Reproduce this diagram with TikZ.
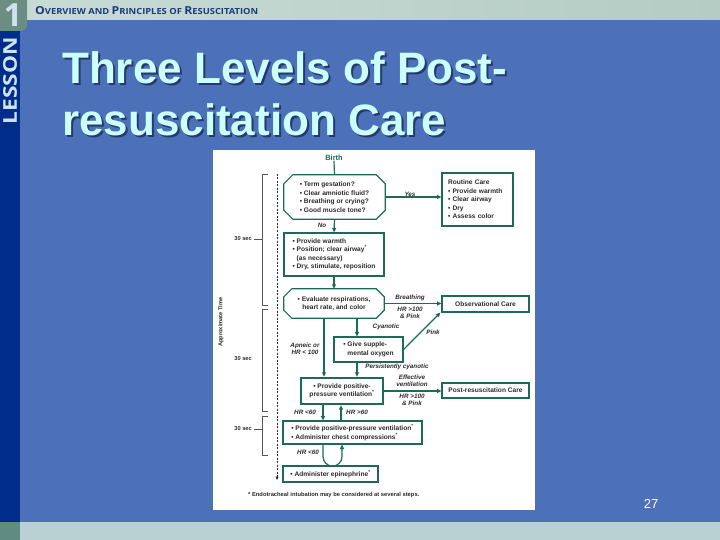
\documentclass[tikz,border=0pt]{standalone}
\usepackage{fontspec}
\setmainfont{Liberation Sans}
\newfontfamily\hdrfont{Open Sans}
\usepackage{graphicx}
\usetikzlibrary{arrows.meta,calc}
\definecolor{slideblue}{HTML}{4D71B8}
\definecolor{navy}{HTML}{002C8C}
\definecolor{topband}{HTML}{C8DCD5}
\definecolor{topband2}{HTML}{B4CCC4}
\definecolor{bottomband}{HTML}{B9D1D2}
\definecolor{tabcol}{HTML}{6C8D82}
\definecolor{cornercol}{HTML}{5F8B80}
\definecolor{chartgreen}{HTML}{1B6B58}
\definecolor{textgray}{HTML}{2B2B2B}
\definecolor{titlecyan}{HTML}{CCFFFF}
\definecolor{titleshadow}{HTML}{243A6A}
\definecolor{headernavy}{HTML}{1E3A78}
\definecolor{lessoncol}{HTML}{CFE3EE}
\definecolor{timegray}{HTML}{555555}
\newcommand{\chfont}{\fontsize{6.6}{8.5}\selectfont\bfseries}
\newcommand{\lblfont}{\fontsize{6.3}{7}\selectfont\bfseries\itshape}
\newcommand{\smc}[1]{{\fontsize{8.4}{8.4}\selectfont #1}}
\newcommand{\shadowtext}[1]{\makebox[0pt][l]{\hspace{2pt}\raisebox{-2pt}{\textcolor{titleshadow}{#1}}}#1}
\begin{document}
\begin{tikzpicture}[x=1pt,y=-1pt,
  box/.style={draw=chartgreen, line width=1.2pt, fill=white, inner sep=0pt, font=\chfont, text=textgray},
  octnode/.style={draw=none, inner sep=0pt, font=\chfont, text=textgray, align=center},
  octline/.style={draw=chartgreen, line width=1.2pt, line join=miter},
  conn/.style={draw=chartgreen, line width=1.2pt, -{Triangle[length=4.5pt,width=4pt]}},
  plain/.style={draw=chartgreen, line width=1.2pt},
  lbl/.style={font=\lblfont, text=textgray, align=center, inner sep=0pt},
  tl/.style={font=\fontsize{5.7}{6}\selectfont\bfseries, text=textgray, inner sep=0pt},
  brk/.style={draw=timegray, line width=0.7pt},
  dashline/.style={draw=textgray, line width=0.6pt, dash pattern=on 2pt off 1.5pt, -{Triangle[length=3.5pt,width=3pt]}}
]
\useasboundingbox (0,0) rectangle (720,540);
% slide frame
\fill[slideblue] (0,0) rectangle (720,540);
\shade[left color=topband, right color=topband2] (0,0) rectangle (720,20);
\fill[bottomband] (0,522) rectangle (720,540);
\fill[navy] (0,20) rectangle (20,522);
\fill[cornercol] (0,522) rectangle (20,540);
\fill[tabcol] (0,0) -- (27,0) [rounded corners=6pt] -- (27,31) [sharp corners] -- (0,31) -- cycle;
\node[text=lessoncol, font=\hdrfont\bfseries\fontsize{32}{32}\selectfont, inner sep=0pt] (one) at (13,15) {1};
\node[rotate=90, text=lessoncol, inner sep=0pt] (lesson) at (10,81) {\resizebox{87pt}{\height}{\hdrfont\bfseries\fontsize{19}{19}\selectfont LESSON}};
\node[anchor=west, text=headernavy, inner sep=0pt] (hdr) at (35,11) {\resizebox{223pt}{\height}{\hdrfont\bfseries\fontsize{11}{11}\selectfont O\smc{VERVIEW AND }P\smc{RINCIPLES OF }R\smc{ESUSCITATION}}};
% title
\node[anchor=base west, inner sep=0pt, text=titlecyan, font=\fontsize{44}{44}\selectfont\bfseries] (t1) at (62,84) {\shadowtext{Three Levels of Post-}};
\node[anchor=base west, inner sep=0pt, text=titlecyan, font=\fontsize{44}{44}\selectfont\bfseries] (t2) at (62,136) {\shadowtext{resuscitation Care}};
\node[text=white, font=\fontsize{13}{13}\selectfont, inner sep=0pt] (pg) at (651,504) {27};
% chart panel
\fill[white] (213,150) rectangle (535,510);
% timeline
\coordinate (tlTop) at (277,174);
\coordinate (tlBot) at (277,480);
\draw[dashline] (tlTop) -- (tlBot);
\draw[brk] (268,174) -- (262,174) -- (262,305) -- (268,305);
\draw[brk] (268,309) -- (262,309) -- (262,411) -- (268,411);
\draw[brk] (268,416) -- (262,416) -- (262,455) -- (268,455);
\node[tl, anchor=east] (s1) at (252,239) {30 sec};
\draw[brk] (254,239) -- (262,239);
\node[tl, anchor=east] (s2) at (252,359) {30 sec};
\node[tl, anchor=east] (s3) at (252,429) {30 sec};
\draw[brk] (254,429) -- (262,429);
\node[tl, rotate=90] (apt) at (221,322) {Approximate Time};
% nodes
\node[font=\fontsize{7.5}{8}\selectfont\bfseries, text=chartgreen, inner sep=0pt] (birth) at (334,158) {Birth};
\node[octnode, minimum width=101pt, minimum height=44pt, align=left] (h1) at (334.5,197) {• Term gestation?\\• Clear amniotic fluid?\\• Breathing or crying?\\• Good muscle tone?};
\draw[octline] ([xshift=9pt]h1.north west) -- ([xshift=-9pt]h1.north east) -- ([yshift=-9pt]h1.north east) -- ([yshift=9pt]h1.south east) -- ([xshift=-9pt]h1.south east) -- ([xshift=9pt]h1.south west) -- ([yshift=9pt]h1.south west) -- ([yshift=-9pt]h1.north west) -- cycle;
\node[box, minimum width=71pt, minimum height=53pt, text width=59pt, inner xsep=6pt, align=left] (routine) at (477.5,199.5) {Routine Care\\• Provide warmth\\• Clear airway\\• Dry\\• Assess color};
\node[box, minimum width=100pt, minimum height=43pt, align=left] (b2) at (334,254.5) {• Provide warmth\\• Position; clear airway\textsuperscript{*}\\\phantom{• }(as necessary)\\• Dry, stimulate, reposition};
\node[octnode, minimum width=100pt, minimum height=29pt] (h2) at (334,303.5) {• Evaluate respirations,\\heart rate, and color};
\draw[octline] ([xshift=8pt]h2.north west) -- ([xshift=-8pt]h2.north east) -- ([yshift=-8pt]h2.north east) -- ([yshift=8pt]h2.south east) -- ([xshift=-8pt]h2.south east) -- ([xshift=8pt]h2.south west) -- ([yshift=8pt]h2.south west) -- ([yshift=-8pt]h2.north west) -- cycle;
\node[box, minimum width=87pt, minimum height=16pt] (obs) at (485.5,304) {Observational Care};
\node[box, minimum width=69pt, minimum height=25pt, align=left] (o2) at (368.5,349.5) {• Give supple-\\\phantom{• }mental oxygen};
\node[box, line width=2.4pt, minimum width=82pt, minimum height=26pt, align=center] (ppv) at (342,391) {• Provide positive-\\pressure ventilation\textsuperscript{*}};
\node[box, minimum width=87pt, minimum height=15pt] (post) at (485.5,390.5) {Post-resuscitation Care};
\node[box, minimum width=139pt, minimum height=23pt, align=left] (cc) at (352.5,432.5) {• Provide positive-pressure ventilation\textsuperscript{*}\\• Administer chest compressions\textsuperscript{*}};
\node[box, minimum width=95pt, minimum height=16pt] (epi) at (330.5,474) {• Administer epinephrine\textsuperscript{*}};
% connectors
\draw[plain] (birth.south) -- (h1.north);
\draw[conn] (h1.east) -- (h1.east -| routine.west);
\draw[conn] (h1.south) -- (b2.north);
\draw[conn] (b2.south) -- (h2.north);
\draw[conn] (h2.east) -- (h2.east -| obs.west);
\draw[conn] ([xshift=23pt]h2.south) -- ([xshift=23pt]h2.south |- o2.north);
\draw[conn] ([xshift=-10pt]h2.south) -- ([xshift=-10pt]h2.south |- ppv.north);
\draw[conn] ([xshift=23pt]h2.south |- o2.south) -- ([xshift=23pt]h2.south |- ppv.north);
\draw[conn] (o2.east) -- ([xshift=-1pt]obs.south west);
\draw[conn] (ppv.east) -- (ppv.east -| post.west);
\draw[conn] ([xshift=-19pt]ppv.south) -- ([xshift=-19pt]ppv.south |- cc.north);
\draw[conn] ([xshift=-1pt]ppv.south |- cc.north) -- ([xshift=-1pt]ppv.south);
\draw[conn] ([xshift=-29.5pt]cc.south) -- ++(0,-12pt) arc[start angle=180, end angle=360, radius=9.5pt] -- ([xshift=-10.5pt]cc.south);
% labels
\node[lbl] (lyes) at (410,194) {Yes};
\node[lbl] (lno) at (322,225) {No};
\node[lbl] (lbr) at (410,298) {Breathing};
\node[lbl] (lhr1) at (410,313) {HR >100\\\& Pink};
\node[lbl] (lcy) at (386,327) {Cyanotic};
\node[lbl] (lpink) at (433,332) {Pink};
\node[lbl] (lap) at (305,349) {Apneic or\\HR < 100};
\node[lbl] (lpc) at (397,367) {Persistently cyanotic};
\node[lbl] (lev) at (412,381) {Effective\\ventilation};
\node[lbl] (lhr2) at (412,400) {HR >100\\\& Pink};
\node[lbl] (lhr3) at (305,412) {HR <60};
\node[lbl] (lhr4) at (357,412) {HR >60};
\node[lbl] (lhr5) at (308,452) {HR <60};
\node[anchor=west, font=\fontsize{5.8}{6}\selectfont\bfseries, text=textgray, inner sep=0pt] (fn) at (248,495) {* Endotracheal intubation may be considered at several steps.};
\end{tikzpicture}
\end{document}
